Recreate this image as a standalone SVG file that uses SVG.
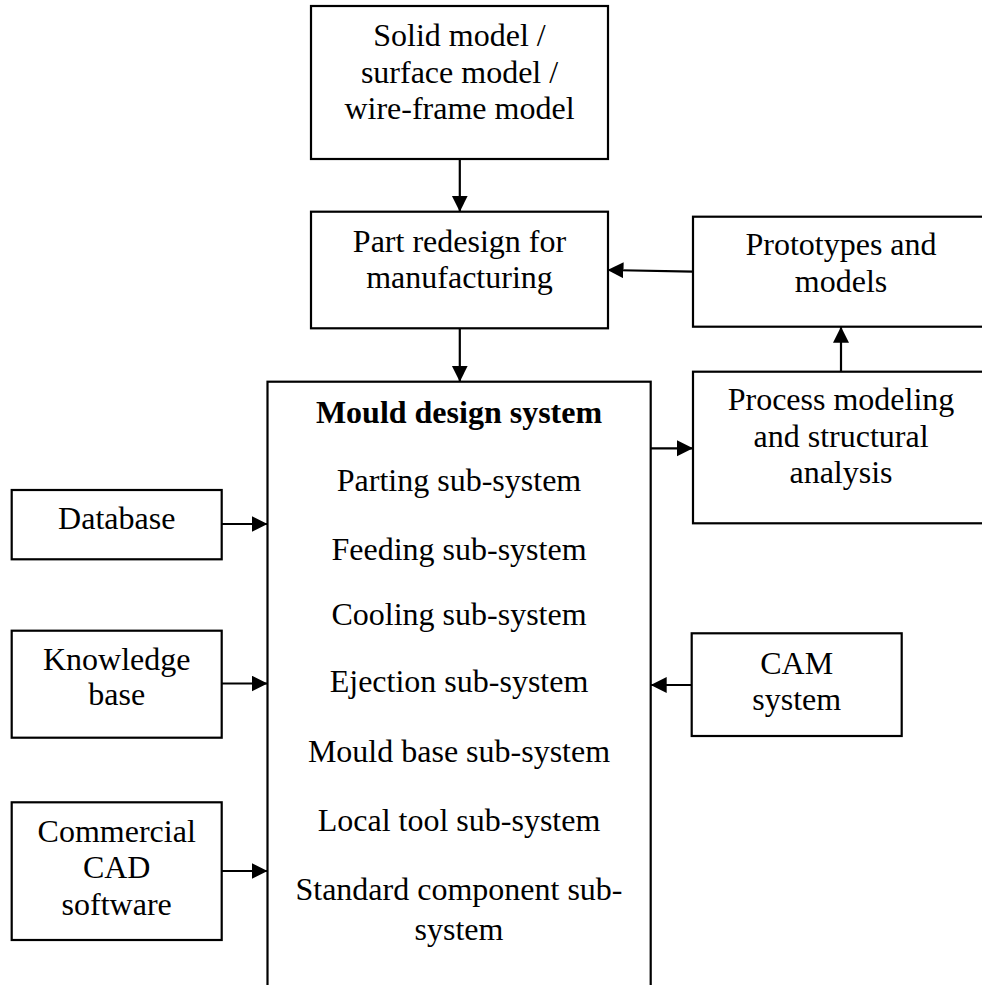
<svg xmlns="http://www.w3.org/2000/svg" width="982" height="985" viewBox="0 0 982 985">
<style>
.box{fill:#fff;stroke:#000;stroke-width:2.2}
.t{font-family:"Liberation Serif","Times New Roman",serif;font-size:32px;fill:#000;text-anchor:middle}
.b{font-weight:bold}
.c{stroke:#000;stroke-width:2.2;fill:none;marker-end:url(#ah)}
</style>
<defs>
<marker id="ah" markerUnits="userSpaceOnUse" markerWidth="18" markerHeight="18" refX="16" refY="8" orient="auto">
<path d="M0,0 L16,8 L0,16 Z" fill="#000"/>
</marker>
</defs>
<rect width="982" height="985" fill="#fff"/>
<g id="solid">
<rect class="box" x="311" y="6" width="297" height="153"/>
<text class="t" x="459.5" y="46">Solid model /</text>
<text class="t" x="459.5" y="82.5">surface model /</text>
<text class="t" x="459.5" y="119">wire-frame model</text>
</g>
<g id="part">
<rect class="box" x="311" y="211.7" width="297" height="116.6"/>
<text class="t" x="459.5" y="251.7">Part redesign for</text>
<text class="t" x="459.5" y="288">manufacturing</text>
</g>
<g id="prototypes">
<rect class="box" x="693" y="216.7" width="297" height="110"/>
<text class="t" x="841" y="255">Prototypes and</text>
<text class="t" x="841" y="291.7">models</text>
</g>
<g id="process">
<rect class="box" x="693" y="371.7" width="297" height="151.6"/>
<text class="t" x="841" y="410">Process modeling</text>
<text class="t" x="841" y="446.7">and structural</text>
<text class="t" x="841" y="483.3">analysis</text>
</g>
<g id="mould">
<rect class="box" x="267.5" y="381.7" width="383.2" height="640"/>
<text class="t b" x="459" y="422.7">Mould design system</text>
<text class="t" x="459" y="490.5">Parting sub-system</text>
<text class="t" x="459" y="560">Feeding sub-system</text>
<text class="t" x="459" y="624.5">Cooling sub-system</text>
<text class="t" x="459" y="691.7">Ejection sub-system</text>
<text class="t" x="459" y="761.7">Mould base sub-system</text>
<text class="t" x="459" y="830.7">Local tool sub-system</text>
<text class="t" x="459" y="900">Standard component sub-</text>
<text class="t" x="459" y="940">system</text>
</g>
<g id="database">
<rect class="box" x="11.7" y="490" width="210" height="69.3"/>
<text class="t" x="116.7" y="529.3">Database</text>
</g>
<g id="knowledge">
<rect class="box" x="11.7" y="630.7" width="210" height="107"/>
<text class="t" x="116.7" y="670">Knowledge</text>
<text class="t" x="116.7" y="705">base</text>
</g>
<g id="commercial">
<rect class="box" x="11.7" y="802.3" width="210" height="137.7"/>
<text class="t" x="116.7" y="841.7">Commercial</text>
<text class="t" x="116.7" y="878.3">CAD</text>
<text class="t" x="116.7" y="915">software</text>
</g>
<g id="cam">
<rect class="box" x="691.7" y="633.3" width="210" height="102.7"/>
<text class="t" x="796.7" y="674">CAM</text>
<text class="t" x="796.7" y="710">system</text>
</g>
<g id="connectors">
<line class="c" x1="459.8" y1="159" x2="459.8" y2="211.7"/>
<line class="c" x1="459.8" y1="328.3" x2="459.8" y2="381.7"/>
<line class="c" x1="693" y1="271.7" x2="607.5" y2="270"/>
<line class="c" x1="841" y1="371.7" x2="841" y2="326.7"/>
<line class="c" x1="650.7" y1="448.3" x2="693" y2="448.3"/>
<line class="c" x1="221.7" y1="524" x2="267.5" y2="524"/>
<line class="c" x1="221.7" y1="683.5" x2="267.5" y2="683.5"/>
<line class="c" x1="221.7" y1="871" x2="267.5" y2="871"/>
<line class="c" x1="691.7" y1="685" x2="650.7" y2="685"/>
</g>
</svg>
